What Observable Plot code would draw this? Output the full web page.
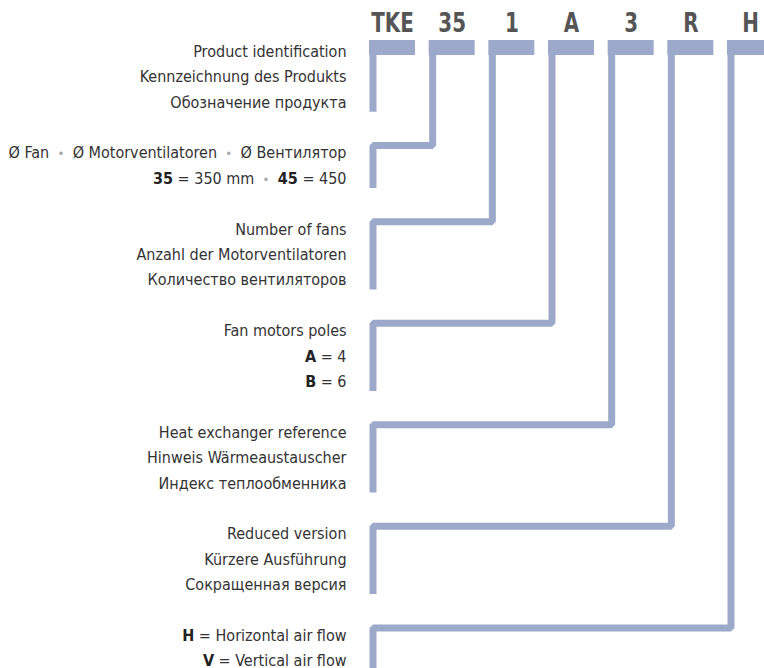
<!DOCTYPE html>
<html>
<head>
<meta charset="utf-8">
<script src="https://cdn.jsdelivr.net/npm/d3@7"></script>
<script src="https://cdn.jsdelivr.net/npm/@observablehq/plot@0.6"></script>
<style>
  html, body { margin: 0; padding: 0; background: #fff; }
  #chart svg { display: block; }
</style>
</head>
<body>
<div id="chart"></div>
<script>
// ---- data ----
const codes = ["TKE", "35", "1", "A", "3", "R", "H"];
const group0 = ["Product identification", "Kennzeichnung des Produkts", "Обозначение продукта"];
const group1 = ["Ø Fan • Ø Motorventilatoren • Ø Вентилятор", "**35** = 350 mm • **45** = 450"];
const group2 = ["Number of fans", "Anzahl der Motorventilatoren", "Количество вентиляторов"];
const group3 = ["Fan motors poles", "**A** = 4", "**B** = 6"];
const group4 = ["Heat exchanger reference", "Hinweis Wärmeaustauscher", "Индекс теплообменника"];
const group5 = ["Reduced version", "Kürzere Ausführung", "Сокращенная версия"];
const group6 = ["**H** = Horizontal air flow", "**V** = Vertical air flow"];
const groups = [group0, group1, group2, group3, group4, group5, group6];

// ---- layout derived from the data (rows of text, columns of code) ----
const color = "#9ca9ca";
const labelRows = [];
const groupInfo = [];
let row = 0;
groups.forEach((lines, g) => {
  const first = row;
  lines.forEach(line => {
    labelRows.push({g, row, markup: line, plain: line.replace(/\*\*/g, "")});
    row++;
  });
  groupInfo.push({g, first, last: row - 1});
  row++; // blank row between groups
});

const barW = 0.771, lineOff = 0.0587;
const bars = codes.map((c, i) => ({i, code: c}));
const paths = [];
groupInfo.forEach(({g, first, last}) => {
  const conn = first - 0.27, end = last + 0.4;
  if (g === 0) {
    paths.push({g, x: lineOff, y: 0}, {g, x: lineOff, y: end});
  } else {
    paths.push({g, x: g + lineOff, y: 0}, {g, x: g + lineOff, y: conn},
               {g, x: lineOff, y: conn}, {g, x: lineOff, y: end});
  }
});

const plot = Plot.plot({
  width: 764, height: 668,
  margin: 0,
  x: {domain: [-6.184, 6.620], range: [0, 764], axis: null},
  y: {domain: [-1.981, 24.33], range: [0, 668], axis: null},
  style: {background: "#fff"},
  marks: [
    Plot.rect(bars, {x1: d => d.i, x2: d => d.i + barW, y1: -0.406, y2: 0.185, fill: color}),
    Plot.line(paths, {x: "x", y: "y", z: "g", stroke: color, strokeWidth: 7,
      strokeLinecap: "butt", strokeLinejoin: "miter", curve: "linear"}),
    Plot.text(bars, {x: d => d.i + barW / 2, y: -1.075, text: "code", fill: "#555",
      fontSize: 27, fontWeight: "bold", textAnchor: "middle",
      fontFamily: "'DejaVu Sans Condensed', 'DejaVu Sans', sans-serif"}),
    Plot.text(labelRows, {x: -0.385, y: "row", dy: 1, text: "plain", fill: "#333",
      fontSize: 16, textAnchor: "end",
      fontFamily: "'DejaVu Sans Condensed', 'DejaVu Sans', sans-serif"})
  ]
});

// header letters: narrower, like the condensed original
const codeSet = new Set(codes);
const allTexts = Array.from(plot.querySelectorAll("text"));
allTexts.forEach(t => {
  if (codeSet.has(t.textContent) && t.getAttribute("font-size") !== "16") {
    const tr = t.getAttribute("transform") || "";
    t.setAttribute("transform", tr + " scale(0.82,1)");
  }
});

// rich text: bold parts and grey bullets
labelRows.forEach(d => {
  if (d.markup === d.plain && !d.markup.includes("•")) return;
  const t = allTexts.find(el => el.textContent === d.plain);
  if (!t) return;
  t.textContent = "";
  const parts = d.markup.split(/(\*\*[^*]+\*\*|•)/).filter(s => s.length);
  parts.forEach(p => {
    const ts = document.createElementNS("http://www.w3.org/2000/svg", "tspan");
    if (p.startsWith("**")) {
      ts.textContent = p.slice(2, -2);
      ts.setAttribute("font-weight", "bold");
      ts.setAttribute("fill", "#222");
    } else if (p === "•") {
      ts.textContent = "\u00a0•\u00a0";
      ts.setAttribute("fill", "#a8a8a8");
      ts.setAttribute("font-size", "13");
    } else {
      ts.textContent = p.replace(/ /g, "\u00a0");
    }
    t.appendChild(ts);
  });
});
document.getElementById("chart").appendChild(plot);
</script>
</body>
</html>
